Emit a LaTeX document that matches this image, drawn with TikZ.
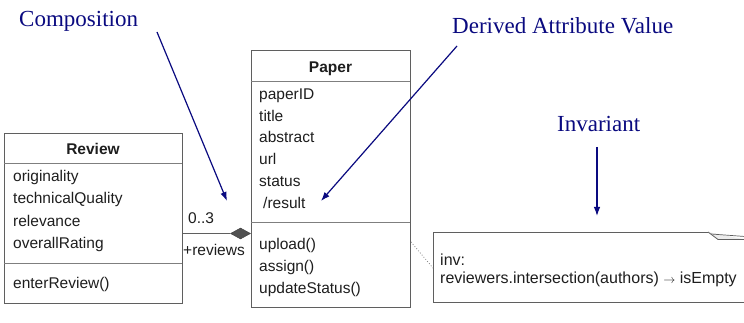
\documentclass[tikz,border=0pt]{standalone}
\usepackage{fontspec}
\setmainfont{Liberation Serif}
\newfontfamily\uifont{Liberation Sans}
\usetikzlibrary{arrows.meta,shapes.geometric}
\definecolor{callout}{RGB}{10,10,128}
\definecolor{umlline}{RGB}{95,95,95}
\definecolor{umltext}{RGB}{30,30,30}
\tikzset{
  box/.style={draw=umlline, line width=0.9pt},
  sepline/.style={draw=umlline!80, line width=0.8pt},
  ui/.style={font=\uifont\fontsize{15.5}{18}\selectfont, text=umltext, inner sep=0pt, anchor=base west},
  notetext/.style={font=\uifont\fontsize{16}{18}\selectfont, text=umltext, inner sep=0pt, anchor=base west},
  uititle/.style={font=\uifont\bfseries\fontsize{15.5}{18}\selectfont, text=umltext, inner sep=0pt, anchor=base},
  label/.style={font=\fontsize{23}{27}\selectfont, text=callout, inner sep=0pt, anchor=base west},
  pointer/.style={draw=callout, line width=1.2pt, -{Latex[length=9pt,width=6.5pt]}},
  compdiamond/.style={diamond, draw=umlline!70!black, fill=umlline!85!black, line width=0.5pt,
    inner sep=0pt, minimum width=20pt, minimum height=11pt, shape aspect=1.8},
}
\begin{document}
\begin{tikzpicture}[x=1pt,y=-1pt]
\useasboundingbox[fill=white] (0,0) rectangle (744,323);

% Review class
\node[box, minimum width=178pt, minimum height=170pt, inner sep=0pt, anchor=north west] (review) at (4,133) {};
\draw[sepline] (4,163) -- (182,163);
\draw[sepline] (4,263) -- (182,263);
\node[uititle] (rtitle) at (93,155) {Review};
\node[ui] (r1) at (13,182) {originality};
\node[ui] (r2) at (13,204) {technicalQuality};
\node[ui] (r3) at (13,226) {relevance};
\node[ui] (r4) at (13,248) {overallRating};
\node[ui] (r5) at (13,288) {enterReview()};

% Paper class
\node[box, minimum width=159pt, minimum height=257pt, inner sep=0pt, anchor=north west] (paper) at (251,50) {};
\draw[sepline] (251,81) -- (410,81);
\draw[sepline] (251,222) -- (410,222);
\node[uititle] (ptitle) at (330.5,73) {Paper};
\node[ui] (p1) at (259,100) {paperID};
\node[ui] (p2) at (259,121.5) {title};
\node[ui] (p3) at (259,143) {abstract};
\node[ui] (p4) at (259,165) {url};
\node[ui] (p5) at (259,187) {status};
\node[ui] (p6) at (263,208) {/result};
\node[ui] (p7) at (259,249) {upload()};
\node[ui] (p8) at (259,271) {assign()};
\node[ui] (p9) at (259,293) {updateStatus()};

% Composition: Review is owned by Paper
\node[compdiamond] (dia) at (240.5,233.5) {};
\coordinate (rr) at (182,233.5);
\draw[umlline, line width=0.9pt] (rr) -- (dia.west);
\node[ui] (mult) at (188,224) {0..3};
\node[ui] (role) at (183,255) {+reviews};

% Note with folded corner
\coordinate (n1) at (433,232);
\coordinate (n2) at (708,232);
\coordinate (n3) at (745,232);
\coordinate (n4) at (745,302);
\coordinate (n5) at (433,302);
\draw[box, fill=white] (n3) -- (n4) -- (n5) -- (n1) -- (n2);
\fill[white] (708,231) -- (745,231) -- (745,238) -- cycle;
\draw[umlline, line width=0.8pt, fill=gray!15] (708,232) -- (718,239.5) -- (745,239.5);
\draw[umlline, line width=0.7pt] (711,234) -- (745,236.5);
\node[notetext] (inv1) at (440,265) {inv:};
\node[notetext] (inv2) at (440,283) {reviewers.intersection(authors) {\fontsize{12}{12}\selectfont$\rightarrow$} isEmpty};

% Anchor line from class to note
\coordinate (pa) at (411,242);
\coordinate (na) at (433,268);
\draw[umlline!80, line width=0.8pt, dotted] (pa) -- (na);

% Callout labels and pointers
\node[label] (lcomp) at (19,27) {Composition};
\node[label] (lderiv) at (452,34) {Derived Attribute Value};
\node[label] (linv) at (557,132) {Invariant};

\coordinate (c0) at (157,32);
\coordinate (c1) at (227,201);
\coordinate (d0) at (457,46);
\coordinate (d1) at (321,201);
\coordinate (i0) at (597,147);
\coordinate (i1) at (597,216);
\draw[pointer] (c0) -- (c1);
\draw[pointer] (d0) -- (d1);
\draw[pointer] (i0) -- (i1);
\end{tikzpicture}
\end{document}
